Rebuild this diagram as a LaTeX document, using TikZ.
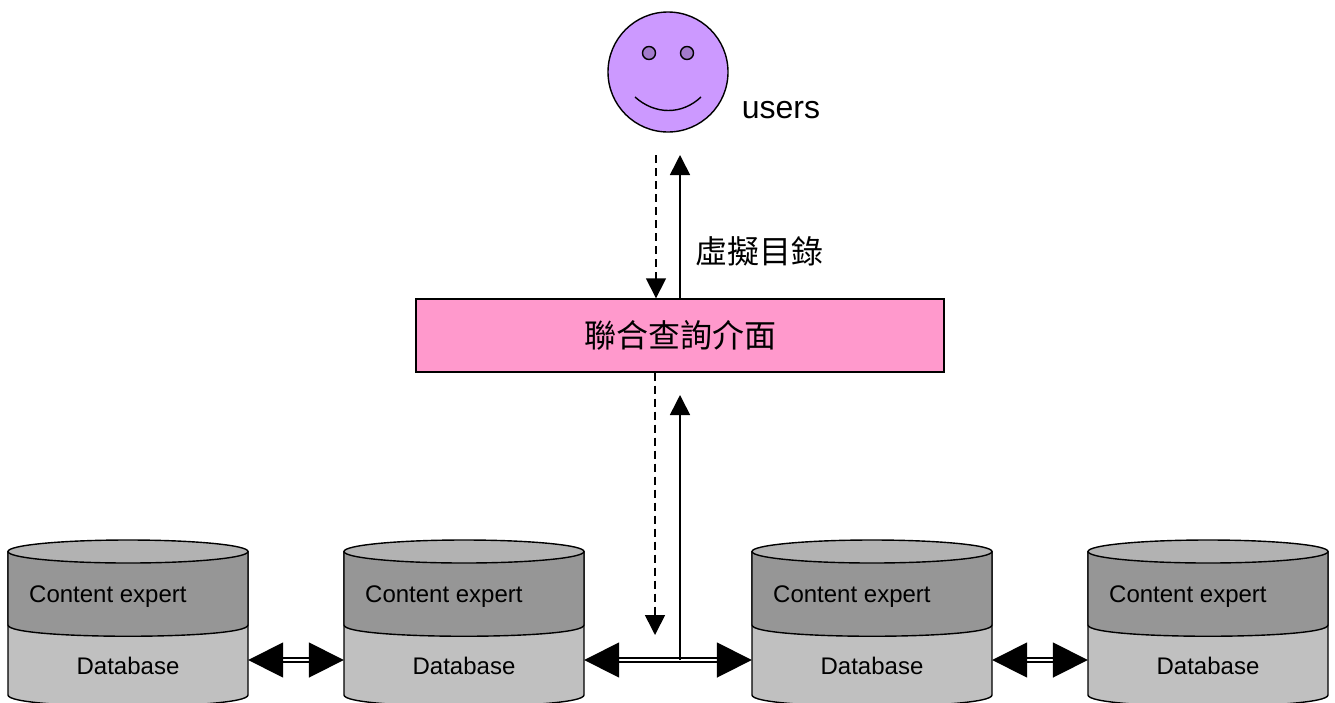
\documentclass[tikz,border=0pt]{standalone}
\usepackage{fontspec}
\setmainfont{Liberation Sans}
\newfontfamily\cjk{Noto Sans CJK TC}
\usetikzlibrary{arrows.meta, positioning, calc}
\definecolor{facepurple}{RGB}{204, 153, 255}
\definecolor{eyepurple}{RGB}{163, 122, 204}
\definecolor{boxpink}{RGB}{255, 153, 204}
\definecolor{dbtop}{RGB}{178, 178, 178}
\definecolor{dbmid}{RGB}{150, 150, 150}
\definecolor{dblow}{RGB}{192, 192, 192}
\tikzset{
    outline/.style={draw=black, line width=1.4pt},
    querybox/.style={
        rectangle, minimum width=528pt, minimum height=73pt, outline,
        fill=boxpink, font=\fontsize{32}{36}\selectfont\cjk, inner sep=0pt
    },
    dbanchor/.style={rectangle, minimum width=240pt, minimum height=70pt, inner sep=0pt},
    expertlabel/.style={font=\fontsize{24}{28}\selectfont, inner sep=0pt},
    baselabel/.style={font=\fontsize{24}{28}\selectfont, inner sep=0pt},
    arrow/.style={-{Triangle[length=20pt, width=20pt]}, line width=1.6pt},
    dasharrow/.style={arrow, dash pattern=on 8pt off 5pt},
    linkarrow/.style={{Triangle[length=35pt, width=35pt]}-{Triangle[length=35pt, width=35pt]},
        double=white, double distance=2.6pt, line width=1.7pt},
}
\begin{document}
\begin{tikzpicture}[x=1pt, y=-1pt]
    \useasboundingbox (0,0) rectangle (1335,702);
    \draw[outline, fill=facepurple] (668,72) circle (60);
    \draw[outline, fill=eyepurple] (649,53) circle (6.5);
    \draw[outline, fill=eyepurple] (687,53) circle (6.5);
    \draw[outline] (635,97) .. controls (655,115) and (682,115) .. (701,97);
    \node[font=\fontsize{32}{36}\selectfont, inner sep=0pt] (users) at (781,110) {users};
    \node[querybox] (query) at (680,335.5) {聯合查詢介面};
    \node[font=\fontsize{32}{36}\selectfont\cjk, inner sep=0pt] (catalog) at (759,251) {虛擬目錄};
    \foreach \name/\x in {db1/128, db2/464, db3/872, db4/1208} {
        \begin{scope}[shift={(\x,0)}]
            \filldraw[outline, fill=dblow] (-120,552) -- (-120,695)
                .. controls (-120,710) and (120,710) .. (120,695) -- (120,552) -- cycle;
            \filldraw[outline, fill=dbmid] (-120,552) -- (-120,625)
                .. controls (-120,640) and (120,640) .. (120,625) -- (120,552) -- cycle;
            \draw[outline, fill=dbtop] (0,551.5) ellipse [x radius=120, y radius=11.5];
            \node[dbanchor] (\name) at (0,660) {};
            \node[expertlabel, anchor=west] (\name expert) at (-99,597) {Content expert};
            \node[baselabel] (\name base) at (0,666) {Database};
        \end{scope}
    }
    \coordinate (userdown) at (656,155);
    \coordinate (userup) at (680,155);
    \coordinate (dbdown) at (655,635);
    \coordinate (dbup) at (680,395);
    \draw[dasharrow] (userdown) -- (userdown |- query.north);
    \draw[arrow] (query.north) -- (userup);
    \draw[dasharrow] (dbdown |- query.south) -- (dbdown);
    \draw[linkarrow] (db1.east) -- (db2.west);
    \draw[linkarrow] (db2.east) -- (db3.west);
    \draw[linkarrow] (db3.east) -- (db4.west);
    \draw[arrow] (dbup |- db2.east) -- (dbup);
\end{tikzpicture}
\end{document}
